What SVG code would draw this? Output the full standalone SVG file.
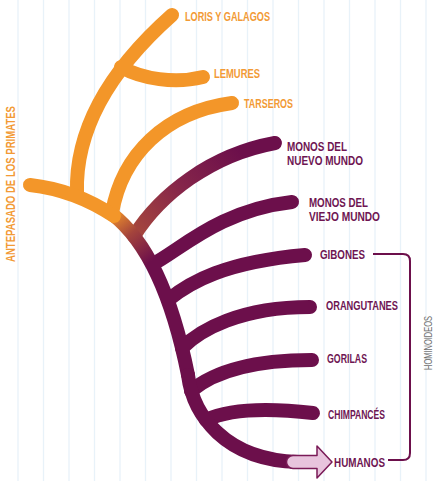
<svg xmlns="http://www.w3.org/2000/svg" width="436" height="481" viewBox="0 0 436 481">
  <defs>
    <style>
      .stripe { stroke: #e8f2f9; stroke-width: 1.3; }
      .br { fill: none; stroke-linecap: round; stroke-width: 14; }
      .or { stroke: #f39629; }
      .pu { stroke: #6c0f4b; }
      .lbl { font-family: "Liberation Sans", Arial, sans-serif; font-weight: bold; font-size: 12.5px; }
      .lo { fill: #f29a35; }
      .lp { fill: #6e1552; }
      .lg { fill: #6f6f6f; font-size: 11.5px; font-weight: normal; }
    </style>
    <linearGradient id="trunkGrad" gradientUnits="userSpaceOnUse" x1="112" y1="212" x2="150" y2="262">
      <stop offset="0" stop-color="#f39629"/>
      <stop offset="0.45" stop-color="#a4443c"/>
      <stop offset="1" stop-color="#6c0f4b"/>
    </linearGradient>
    <linearGradient id="newWorldGrad" gradientUnits="userSpaceOnUse" x1="134" y1="236" x2="240" y2="152">
      <stop offset="0" stop-color="#a7483c"/>
      <stop offset="0.5" stop-color="#85254a"/>
      <stop offset="1" stop-color="#6c0f4b"/>
    </linearGradient>
  </defs>

  <rect width="436" height="481" fill="#ffffff"/>

  <!-- faint ruled background -->
  <g id="background">
    <line class="stripe" x1="18" y1="0" x2="18" y2="481"/>
    <line class="stripe" x1="43.5" y1="0" x2="43.5" y2="481"/>
    <line class="stripe" x1="69" y1="0" x2="69" y2="481"/>
    <line class="stripe" x1="94.5" y1="0" x2="94.5" y2="481"/>
    <line class="stripe" x1="120" y1="0" x2="120" y2="481"/>
    <line class="stripe" x1="145.5" y1="0" x2="145.5" y2="481"/>
    <line class="stripe" x1="171" y1="0" x2="171" y2="481"/>
    <line class="stripe" x1="196.5" y1="0" x2="196.5" y2="481"/>
    <line class="stripe" x1="222" y1="0" x2="222" y2="481"/>
    <line class="stripe" x1="247.5" y1="0" x2="247.5" y2="481"/>
    <line class="stripe" x1="273" y1="0" x2="273" y2="481"/>
    <line class="stripe" x1="298.5" y1="0" x2="298.5" y2="481"/>
    <line class="stripe" x1="324" y1="0" x2="324" y2="481"/>
    <line class="stripe" x1="349.5" y1="0" x2="349.5" y2="481"/>
    <line class="stripe" x1="375" y1="0" x2="375" y2="481"/>
    <line class="stripe" x1="400.5" y1="0" x2="400.5" y2="481"/>
    <line class="stripe" x1="426" y1="0" x2="426" y2="481"/>
  </g>

  <!-- tree branches -->
  <g id="connectors">
    <!-- purple branches, each starting on the trunk centre line -->
    <path class="br pu" d="M153,264 C180,250 220,210 292,202"/>
    <path class="br pu" d="M168,300 C190,282 225,262 305,255"/>
    <path class="br pu" d="M182,348 C200,330 240,307 310,307"/>
    <path class="br pu" d="M191,391 C210,375 245,360 312,360"/>
    <path class="br pu" d="M206,420 C225,411 260,407 313,413"/>
    <path class="br" stroke="url(#newWorldGrad)" d="M134,236 C160,195 210,155 275,143"/>
    <!-- main trunk -->
    <path class="br" stroke="url(#trunkGrad)" stroke-width="17" d="M112,214 C152,245 175,310 188,375"/>
    <path class="br pu" stroke-width="17" d="M188,375 C193,415 225,460 298,462"/>
    <!-- orange branches -->
    <path class="br or" d="M121,67 C142,79 175,84 203,77"/>
    <path class="br or" d="M77,193 C75,130 110,70 172,15"/>
    <path class="br or" d="M112,213 C122,155 165,112 232,103"/>
    <path class="br or" d="M30,185 Q75,190 114,216"/>
    <!-- hominoid bracket -->
    <path fill="none" stroke="#6c0f4b" stroke-width="2" d="M373,254 H403 Q410,254 410,261 V453 Q410,460 403,460 H388"/>
  </g>

  <g id="ancestor">
    <text class="lbl lo" font-size="12" transform="translate(15,184) rotate(-90)" text-anchor="middle" textLength="156" lengthAdjust="spacingAndGlyphs">ANTEPASADO DE LOS PRIMATES</text>
  </g>

  <g id="loris">
    <text class="lbl lo" x="185" y="21" textLength="85" lengthAdjust="spacingAndGlyphs">LORIS Y GALAGOS</text>
  </g>
  <g id="lemures">
    <text class="lbl lo" x="214" y="78" textLength="46" lengthAdjust="spacingAndGlyphs">LEMURES</text>
  </g>
  <g id="tarseros">
    <text class="lbl lo" x="244" y="108" textLength="49" lengthAdjust="spacingAndGlyphs">TARSEROS</text>
  </g>
  <g id="nuevo-mundo">
    <text class="lbl lp" x="287" y="150.5" textLength="60" lengthAdjust="spacingAndGlyphs">MONOS DEL</text>
    <text class="lbl lp" x="287" y="164.5" textLength="76" lengthAdjust="spacingAndGlyphs">NUEVO MUNDO</text>
  </g>
  <g id="viejo-mundo">
    <text class="lbl lp" x="309" y="206.5" textLength="59" lengthAdjust="spacingAndGlyphs">MONOS DEL</text>
    <text class="lbl lp" x="309" y="220.5" textLength="71" lengthAdjust="spacingAndGlyphs">VIEJO MUNDO</text>
  </g>
  <g id="gibones">
    <text class="lbl lp" x="320" y="259" textLength="45" lengthAdjust="spacingAndGlyphs">GIBONES</text>
  </g>
  <g id="orangutanes">
    <text class="lbl lp" x="326" y="310" textLength="72" lengthAdjust="spacingAndGlyphs">ORANGUTANES</text>
  </g>
  <g id="gorilas">
    <text class="lbl lp" x="327" y="363" textLength="40" lengthAdjust="spacingAndGlyphs">GORILAS</text>
  </g>
  <g id="chimpances">
    <text class="lbl lp" x="328" y="419" textLength="57" lengthAdjust="spacingAndGlyphs">CHIMPANCÉS</text>
  </g>
  <g id="humanos">
    <path d="M293,455.5 H317 V446 L332,462 L317,478 V468.5 H293 A6.5,6.5 0 0 1 293,455.5 Z" fill="#e8c4dd" stroke="#7a1a57" stroke-width="1.5" stroke-linejoin="round"/>
    <text class="lbl lp" x="334" y="467" textLength="51" lengthAdjust="spacingAndGlyphs">HUMANOS</text>
  </g>
  <g id="hominoideos">
    <text class="lbl lg" transform="translate(432,343) rotate(-90)" text-anchor="middle" textLength="54" lengthAdjust="spacingAndGlyphs">HOMINOIDEOS</text>
  </g>
</svg>
